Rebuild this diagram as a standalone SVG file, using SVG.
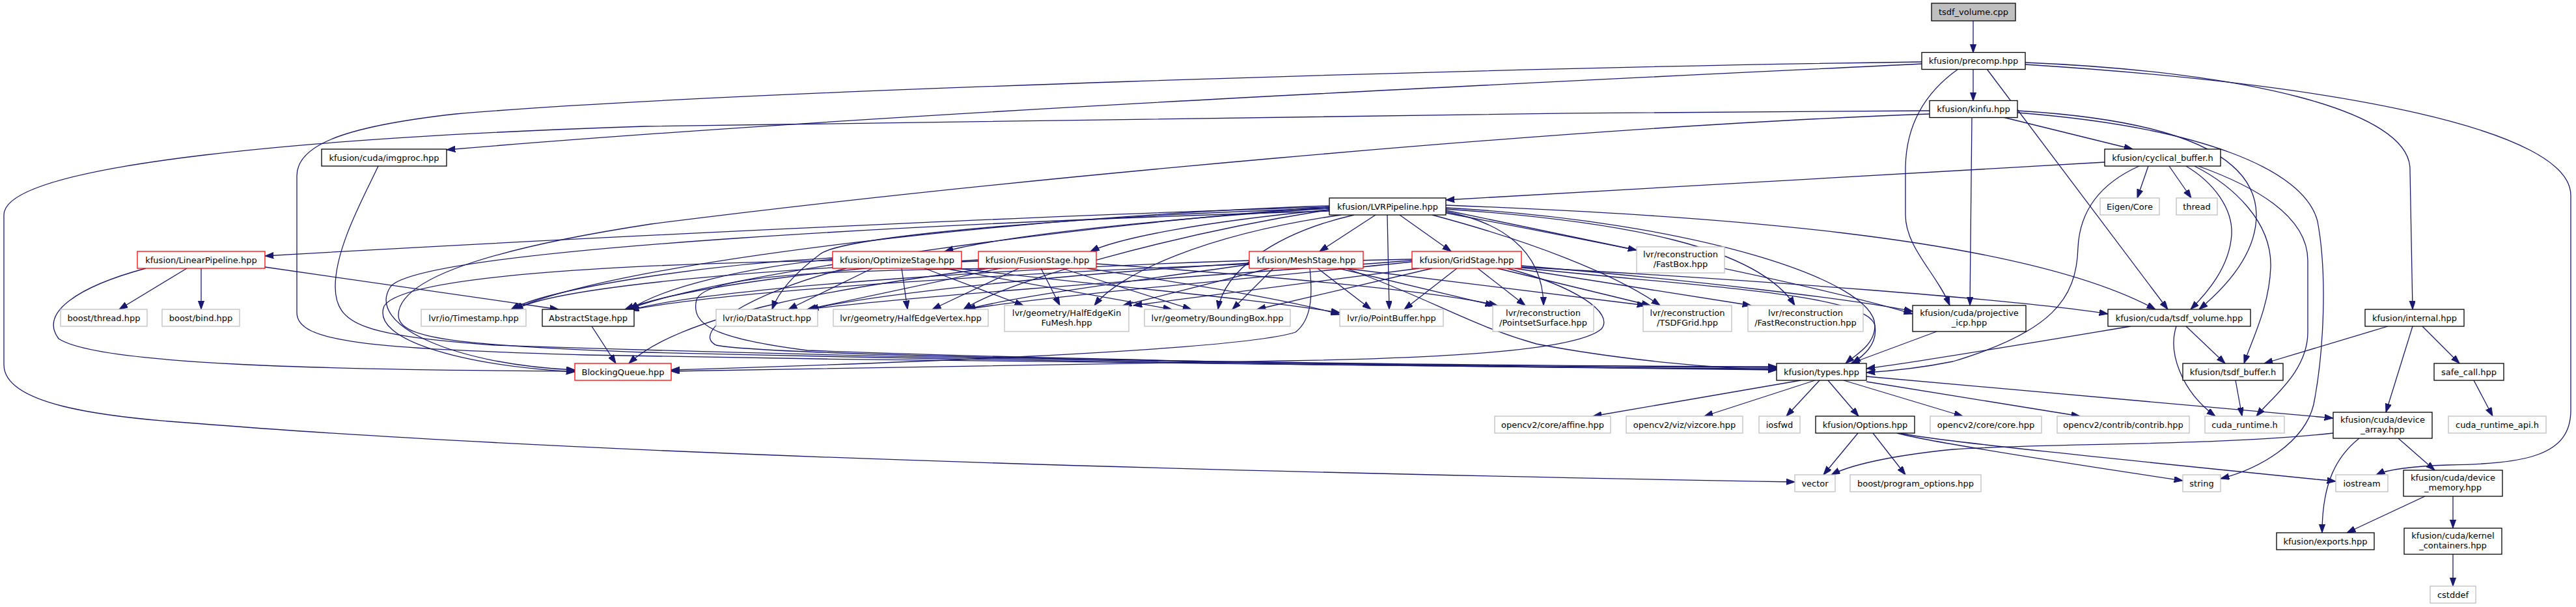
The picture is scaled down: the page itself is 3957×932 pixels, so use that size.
<svg xmlns="http://www.w3.org/2000/svg" width="3957" height="932" viewBox="0 0 3957 932">
<defs>
<marker id="a" markerUnits="userSpaceOnUse" markerWidth="14" markerHeight="10" refX="13.3" refY="4.7" orient="auto"><path d="M0,0 L13.3,4.7 L0,9.4 z" fill="#191970" stroke="#191970" stroke-width="1"/></marker>
<style>
.e{fill:none;stroke:#191970;stroke-width:1.3;marker-end:url(#a)}
.n rect{fill:#fff;stroke:#000;stroke-width:1.3}
.n.x rect{stroke:#bfbfbf}
.n.r rect{stroke:#ff0000}
.n.root rect{fill:#bfbfbf}
text{font-family:"DejaVu Sans","Liberation Sans",sans-serif;font-size:13px;text-anchor:middle;fill:#000}
</style>
</defs>
<rect width="3957" height="932" fill="#fff"/>
<g id="edges">
<path class="e" d="M3031,32 L3031,81"/>
<path class="e" d="M3031,106 L3031,155"/>
<path class="e" d="M2952,98 C2400,125 1400,170 686,230"/>
<path class="e" d="M2952,95 C2300,104 1100,140 700,175 C520,195 456,225 456,270 L456,480 C456,525 560,535 900,545 C1600,558 2400,565 2729,568"/>
<path class="e" d="M3008,106 C2960,140 2927,190 2927,260 L2927,330 C2927,380 2975,420 2995,469"/>
<path class="e" d="M3052,106 L3330,475"/>
<path class="e" d="M3111,96 C3450,110 3702,170 3702,260 L3706,475"/>
<path class="e" d="M3111,99 C3600,130 3949,200 3949,300 L3949,630 C3949,700 3880,712 3760,714 C3700,716 3665,722 3650,729"/>
<path class="e" d="M2964,170 C2200,174 1200,186 990,194 C500,210 6,250 6,330 L6,560 C6,620 150,640 300,650 C800,690 1600,720 2757,740"/>
<path class="e" d="M3077,180 L3276,229"/>
<path class="e" d="M3029,180 L3026,469"/>
<path class="e" d="M3099,170 C3350,185 3465,240 3466,330 C3466,390 3420,440 3378,475"/>
<path class="e" d="M3099,173 C3380,195 3540,260 3560,340 C3575,420 3570,540 3554,621 C3540,680 3470,720 3411,735"/>
<path class="e" d="M2964,175 C2400,195 1500,280 1000,344 C700,390 612,440 612,484 C612,520 700,530 990,541 C1700,558 2400,565 2729,566"/>
<path class="e" d="M3233,249 L2221,307"/>
<path class="e" d="M3300,255 L3283,304"/>
<path class="e" d="M3332,255 L3366,304"/>
<path class="e" d="M3358,255 C3400,280 3430,320 3428,360 C3425,410 3390,450 3365,475"/>
<path class="e" d="M3371,255 C3430,285 3490,340 3488,410 C3486,470 3460,520 3447,558"/>
<path class="e" d="M3377,255 C3460,285 3545,330 3545,400 L3545,510 C3545,570 3490,610 3466,639"/>
<path class="e" d="M3286,255 C3230,280 3195,320 3192,380 C3190,460 3150,510 3000,555 C2950,565 2900,570 2867,572"/>
<path class="e" d="M581,255 C560,300 515,380 515,440 C515,500 560,515 760,530 C1500,555 2300,563 2729,564"/>
<path class="e" d="M2042,318 C1600,330 800,370 407,393"/>
<path class="e" d="M2042,320 C1800,335 1550,360 1451,386"/>
<path class="e" d="M2042,322 C1850,340 1720,365 1675,386"/>
<path class="e" d="M2113,330 L2027,386"/>
<path class="e" d="M2150,330 L2229,386"/>
<path class="e" d="M2131,330 L2134,475"/>
<path class="e" d="M2221,323 L2514,384"/>
<path class="e" d="M2221,325 C2300,340 2370,380 2371,469"/>
<path class="e" d="M2200,330 C2350,370 2480,420 2550,469"/>
<path class="e" d="M2221,321 C2500,340 2700,380 2757,469"/>
<path class="e" d="M2221,319 C2600,340 2880,430 2880,500 C2880,530 2850,545 2835,558"/>
<path class="e" d="M2221,315 C2600,330 3100,360 3311,475"/>
<path class="e" d="M2221,327 C2500,380 2800,440 2938,482"/>
<path class="e" d="M2042,316 C1600,330 950,400 790,475"/>
<path class="e" d="M2042,318 C1700,340 1100,420 965,475"/>
<path class="e" d="M2042,320 C1700,330 1300,360 1260,390 C1220,420 1195,450 1186,475"/>
<path class="e" d="M2042,322 C1800,360 1550,430 1480,475"/>
<path class="e" d="M2060,330 C1850,360 1720,420 1681,469"/>
<path class="e" d="M2080,330 C1950,360 1880,420 1871,475"/>
<path class="e" d="M2042,324 C1500,340 650,380 600,440 C560,500 700,560 883,568"/>
<path class="e" d="M1340,412 L1211,475"/>
<path class="e" d="M1385,412 L1394,475"/>
<path class="e" d="M1420,412 L1572,469"/>
<path class="e" d="M1450,412 L1800,475"/>
<path class="e" d="M1470,412 C1700,440 1900,455 2058,480"/>
<path class="e" d="M1279,398 C1150,410 1020,440 968,475"/>
<path class="e" d="M1279,396 C1100,405 850,440 785,475"/>
<path class="e" d="M1279,400 C1000,405 620,420 590,470 C570,520 700,560 883,571"/>
<path class="e" d="M1300,412 C1150,450 1060,510 1100,530 C1200,550 2300,562 2729,563"/>
<path class="e" d="M1536,412 L1240,475"/>
<path class="e" d="M1565,412 L1432,475"/>
<path class="e" d="M1599,412 L1628,469"/>
<path class="e" d="M1631,412 L1830,475"/>
<path class="e" d="M1670,412 C1850,440 1980,460 2058,483"/>
<path class="e" d="M1684,405 C1900,420 2200,445 2300,469"/>
<path class="e" d="M1503,399 C1300,410 1050,440 960,475"/>
<path class="e" d="M1503,401 C1200,410 850,440 790,476"/>
<path class="e" d="M1539,412 C1300,415 1085,420 1070,460 C1060,500 1100,520 1240,538 C1600,552 2300,564 2729,567"/>
<path class="e" d="M1520,412 C1300,440 1050,480 966,558"/>
<path class="e" d="M1919,404 C1650,420 1350,450 1244,475"/>
<path class="e" d="M1919,406 C1750,430 1560,455 1485,475"/>
<path class="e" d="M1950,412 L1725,469"/>
<path class="e" d="M1956,412 L1893,475"/>
<path class="e" d="M2024,412 L2106,475"/>
<path class="e" d="M2056,412 L2295,469"/>
<path class="e" d="M2066,412 L2528,469"/>
<path class="e" d="M2012,412 C2016,450 2016,490 1990,510 C1900,540 1300,560 1031,568"/>
<path class="e" d="M2068,412 C2200,460 2260,500 2360,528 C2500,555 2650,566 2729,568"/>
<path class="e" d="M1919,400 C1600,410 1100,440 968,476"/>
<path class="e" d="M2169,400 C1900,420 1450,450 1240,475"/>
<path class="e" d="M2169,402 C1950,425 1600,455 1485,475"/>
<path class="e" d="M2180,412 L1741,469"/>
<path class="e" d="M2200,412 L1931,475"/>
<path class="e" d="M2238,412 L2157,475"/>
<path class="e" d="M2270,412 L2343,469"/>
<path class="e" d="M2300,412 L2535,469"/>
<path class="e" d="M2327,412 L2690,469"/>
<path class="e" d="M2337,408 C2600,430 2850,460 2938,478"/>
<path class="e" d="M2337,410 C2700,430 3100,460 3238,482"/>
<path class="e" d="M2337,411 C2600,440 2870,450 2880,500 C2885,530 2860,548 2845,558"/>
<path class="e" d="M2315,412 C2420,440 2480,480 2460,505 C2420,540 2200,550 1980,554 C1600,560 1200,566 1031,570"/>
<path class="e" d="M2169,398 C1800,405 1150,440 968,476"/>
<path class="e" d="M287,412 L183,475"/>
<path class="e" d="M309,412 L309,475"/>
<path class="e" d="M407,410 L858,475"/>
<path class="e" d="M224,412 C120,440 60,480 90,520 C150,560 500,568 883,570"/>
<path class="e" d="M909,501 L946,558"/>
<path class="e" d="M2766,584 L2447,639"/>
<path class="e" d="M2788,584 L2618,639"/>
<path class="e" d="M2795,584 L2744,639"/>
<path class="e" d="M2808,584 L2855,639"/>
<path class="e" d="M2832,584 L3015,639"/>
<path class="e" d="M2867,586 L3195,639"/>
<path class="e" d="M2867,578 L3584,642"/>
<path class="e" d="M2854,665 L2801,729"/>
<path class="e" d="M2877,665 L2927,729"/>
<path class="e" d="M2914,665 C2950,675 3100,700 3353,738"/>
<path class="e" d="M2920,665 C2960,676 3300,710 3588,739"/>
<path class="e" d="M3584,665 C3400,685 3150,680 3000,690 C2900,700 2840,715 2813,729"/>
<path class="e" d="M3624,673 C3590,700 3567,740 3567,818"/>
<path class="e" d="M3684,673 L3740,722"/>
<path class="e" d="M3725,762 L3605,818"/>
<path class="e" d="M3768,762 L3768,811"/>
<path class="e" d="M3768,851 L3768,900"/>
<path class="e" d="M3668,501 L3478,558"/>
<path class="e" d="M3721,501 L3778,558"/>
<path class="e" d="M3706,501 L3665,633"/>
<path class="e" d="M3800,584 L3829,639"/>
<path class="e" d="M3358,501 L3418,558"/>
<path class="e" d="M3273,501 C3100,530 2950,555 2867,566"/>
<path class="e" d="M3343,501 C3330,540 3350,600 3403,639"/>
<path class="e" d="M3434,584 L3444,639"/>
<path class="e" d="M2975,509 L2843,558"/>
</g>
<g id="n_root" class="n root"><rect x="2967" y="5" width="129" height="27"/><text x="3031.5" y="23">tsdf_volume.cpp</text></g>
<g id="n_precomp" class="n"><rect x="2952" y="80.5" width="159" height="26"/><text x="3031.5" y="98">kfusion/precomp.hpp</text></g>
<g id="n_kinfu" class="n"><rect x="2964" y="154.5" width="135" height="26"/><text x="3031.5" y="172">kfusion/kinfu.hpp</text></g>
<g id="n_imgproc" class="n"><rect x="494" y="229" width="192" height="26"/><text x="590" y="246.5">kfusion/cuda/imgproc.hpp</text></g>
<g id="n_cyclical" class="n"><rect x="3233" y="229" width="178" height="26"/><text x="3322" y="246.5">kfusion/cyclical_buffer.h</text></g>
<g id="n_lvr" class="n"><rect x="2042" y="304" width="179" height="26"/><text x="2131.5" y="321.5">kfusion/LVRPipeline.hpp</text></g>
<g id="n_eigen" class="n x"><rect x="3226" y="304" width="91" height="26"/><text x="3271.5" y="321.5">Eigen/Core</text></g>
<g id="n_thread" class="n x"><rect x="3343" y="304" width="63" height="26"/><text x="3374.5" y="321.5">thread</text></g>
<g id="n_linear" class="n r"><rect x="211" y="386" width="196" height="26"/><text x="309" y="403.5">kfusion/LinearPipeline.hpp</text></g>
<g id="n_optimize" class="n r"><rect x="1279" y="386" width="198" height="26"/><text x="1378" y="403.5">kfusion/OptimizeStage.hpp</text></g>
<g id="n_fusion" class="n r"><rect x="1503" y="386" width="181" height="26"/><text x="1593.5" y="403.5">kfusion/FusionStage.hpp</text></g>
<g id="n_mesh" class="n r"><rect x="1919" y="386" width="175" height="26"/><text x="2006.5" y="403.5">kfusion/MeshStage.hpp</text></g>
<g id="n_grid" class="n r"><rect x="2169" y="386" width="168" height="26"/><text x="2253" y="403.5">kfusion/GridStage.hpp</text></g>
<g id="n_fastbox" class="n x"><rect x="2514" y="379" width="135" height="40"/><text x="2581.5" y="395">lvr/reconstruction</text><text x="2581.5" y="410">/FastBox.hpp</text></g>
<g id="n_bthread" class="n x"><rect x="93" y="475" width="133" height="26"/><text x="159.5" y="492.5">boost/thread.hpp</text></g>
<g id="n_bbind" class="n x"><rect x="249" y="475" width="119" height="26"/><text x="308.5" y="492.5">boost/bind.hpp</text></g>
<g id="n_timestamp" class="n x"><rect x="647" y="475" width="161" height="26"/><text x="727.5" y="492.5">lvr/io/Timestamp.hpp</text></g>
<g id="n_abstract" class="n"><rect x="833" y="475" width="141" height="26"/><text x="903.5" y="492.5">AbstractStage.hpp</text></g>
<g id="n_datastruct" class="n x"><rect x="1100" y="475" width="156" height="26"/><text x="1178" y="492.5">lvr/io/DataStruct.hpp</text></g>
<g id="n_hev" class="n x"><rect x="1280" y="475" width="238" height="26"/><text x="1399" y="492.5">lvr/geometry/HalfEdgeVertex.hpp</text></g>
<g id="n_hekfm" class="n x"><rect x="1543" y="469" width="191" height="40"/><text x="1638.5" y="485">lvr/geometry/HalfEdgeKin</text><text x="1638.5" y="500">FuMesh.hpp</text></g>
<g id="n_bbox" class="n x"><rect x="1758" y="475" width="224" height="26"/><text x="1870" y="492.5">lvr/geometry/BoundingBox.hpp</text></g>
<g id="n_pointbuffer" class="n x"><rect x="2058" y="475" width="159" height="26"/><text x="2137.5" y="492.5">lvr/io/PointBuffer.hpp</text></g>
<g id="n_pss" class="n x"><rect x="2293" y="469" width="155" height="40"/><text x="2370.5" y="485">lvr/reconstruction</text><text x="2370.5" y="500">/PointsetSurface.hpp</text></g>
<g id="n_tsdfgrid" class="n x"><rect x="2524" y="469" width="136" height="40"/><text x="2592" y="485">lvr/reconstruction</text><text x="2592" y="500">/TSDFGrid.hpp</text></g>
<g id="n_fastrecon" class="n x"><rect x="2685" y="469" width="177" height="40"/><text x="2773.5" y="485">lvr/reconstruction</text><text x="2773.5" y="500">/FastReconstruction.hpp</text></g>
<g id="n_icp" class="n"><rect x="2938" y="469" width="174" height="40"/><text x="3025" y="485">kfusion/cuda/projective</text><text x="3025" y="500">_icp.hpp</text></g>
<g id="n_tsdfvol" class="n"><rect x="3238" y="475" width="219" height="26"/><text x="3347.5" y="492.5">kfusion/cuda/tsdf_volume.hpp</text></g>
<g id="n_internal" class="n"><rect x="3633" y="475" width="152" height="26"/><text x="3709" y="492.5">kfusion/internal.hpp</text></g>
<g id="n_bq" class="n r"><rect x="883" y="558" width="148" height="26"/><text x="957" y="575.5">BlockingQueue.hpp</text></g>
<g id="n_types" class="n"><rect x="2729" y="558" width="138" height="26"/><text x="2798" y="575.5">kfusion/types.hpp</text></g>
<g id="n_tsdfbuf" class="n"><rect x="3353" y="558" width="154" height="26"/><text x="3430" y="575.5">kfusion/tsdf_buffer.h</text></g>
<g id="n_safecall" class="n"><rect x="3739" y="558" width="107" height="26"/><text x="3792.5" y="575.5">safe_call.hpp</text></g>
<g id="n_affine" class="n x"><rect x="2296" y="639" width="178" height="26"/><text x="2385" y="656.5">opencv2/core/affine.hpp</text></g>
<g id="n_vizcore" class="n x"><rect x="2498" y="639" width="179" height="26"/><text x="2587.5" y="656.5">opencv2/viz/vizcore.hpp</text></g>
<g id="n_iosfwd" class="n x"><rect x="2702" y="639" width="63" height="26"/><text x="2733.5" y="656.5">iosfwd</text></g>
<g id="n_options" class="n"><rect x="2789" y="639" width="152" height="26"/><text x="2865" y="656.5">kfusion/Options.hpp</text></g>
<g id="n_core" class="n x"><rect x="2965" y="639" width="171" height="26"/><text x="3050.5" y="656.5">opencv2/core/core.hpp</text></g>
<g id="n_contrib" class="n x"><rect x="3160" y="639" width="203" height="26"/><text x="3261.5" y="656.5">opencv2/contrib/contrib.hpp</text></g>
<g id="n_cudart" class="n x"><rect x="3387" y="639" width="122" height="26"/><text x="3448" y="656.5">cuda_runtime.h</text></g>
<g id="n_devarray" class="n"><rect x="3584" y="633" width="152" height="40"/><text x="3660" y="649">kfusion/cuda/device</text><text x="3660" y="664">_array.hpp</text></g>
<g id="n_cudaapi" class="n x"><rect x="3761" y="639" width="150" height="26"/><text x="3836" y="656.5">cuda_runtime_api.h</text></g>
<g id="n_vector" class="n x"><rect x="2757" y="729" width="62" height="26"/><text x="2788" y="746.5">vector</text></g>
<g id="n_progopt" class="n x"><rect x="2842" y="729" width="201" height="26"/><text x="2942.5" y="746.5">boost/program_options.hpp</text></g>
<g id="n_string" class="n x"><rect x="3353" y="729" width="58" height="26"/><text x="3382" y="746.5">string</text></g>
<g id="n_iostream" class="n x"><rect x="3588" y="729" width="80" height="26"/><text x="3628" y="746.5">iostream</text></g>
<g id="n_devmem" class="n"><rect x="3692" y="722" width="152" height="40"/><text x="3768" y="738">kfusion/cuda/device</text><text x="3768" y="753">_memory.hpp</text></g>
<g id="n_exports" class="n"><rect x="3497" y="818" width="150" height="26"/><text x="3572" y="835.5">kfusion/exports.hpp</text></g>
<g id="n_kc" class="n"><rect x="3693" y="811" width="150" height="40"/><text x="3768" y="827">kfusion/cuda/kernel</text><text x="3768" y="842">_containers.hpp</text></g>
<g id="n_cstddef" class="n x"><rect x="3733" y="900" width="70" height="26"/><text x="3768" y="917.5">cstddef</text></g>
</svg>
